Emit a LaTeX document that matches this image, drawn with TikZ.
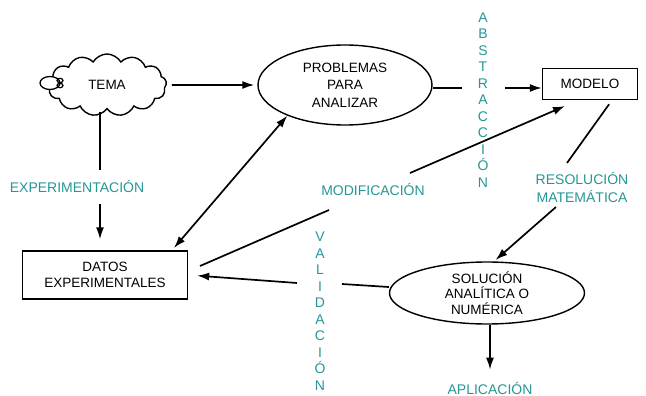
\documentclass[tikz,border=0pt]{standalone}
\usepackage{fontspec}
\setmainfont{Liberation Sans}
\usetikzlibrary{arrows.meta,shapes.geometric,shapes.symbols}
\definecolor{labelteal}{RGB}{38,150,150}

\tikzset{
  box/.style={draw, line width=1.4pt, align=center, inner sep=0pt},
  oval/.style={draw, ellipse, line width=1.4pt, align=center, inner sep=0pt},
  lbl/.style={text=labelteal, align=center, inner sep=0pt,
    font=\fontsize{14}{18}\selectfont},
  vlbl/.style={lbl, font=\fontsize{14}{16.5}\selectfont},
  conn/.style={line width=1.7pt},
  arr/.style={conn, -{Latex[length=12pt,width=8pt]}},
}

\begin{document}
\begin{tikzpicture}[x=1pt, y=-1pt, font=\fontsize{13.5}{16.5}\selectfont]
  \useasboundingbox (0,0) rectangle (646,396);

  % main nodes
  \node[cloud, draw, line width=1.4pt, cloud puffs=13, cloud puff arc=120,
    aspect=2, minimum width=119pt, minimum height=62pt, inner sep=0pt]
    (tema) at (107,85) {TEMA};
  \draw[line width=1.3pt, fill=white] (50,83) ellipse (10 and 6.5);
  \draw[line width=1.2pt] (60,80.5) ellipse (3 and 2.2);
  \draw[line width=1.2pt] (60,85.5) ellipse (3 and 2.2);
  \node[oval, minimum width=174pt, minimum height=80pt,
    font=\fontsize{13.5}{17.5}\selectfont] (prob) at (345,85)
    {PROBLEMAS\\PARA\\ANALIZAR};
  \node[box, minimum width=95pt, minimum height=31pt] (modelo) at (590,84) {MODELO};
  \node[box, minimum width=165pt, minimum height=48pt] (datos) at (105,275)
    {DATOS\\EXPERIMENTALES};
  \node[oval, minimum width=195pt, minimum height=62pt,
    font=\fontsize{13.5}{15.5}\selectfont] (sol) at (487,293)
    {SOLUCIÓN\\ANALÍTICA O\\NUMÉRICA};

  % labels
  \node[lbl] (exper) at (77,186) {EXPERIMENTACIÓN};
  \node[lbl] (modif) at (373,189) {MODIFICACIÓN};
  \node[lbl] (resol) at (582,187) {RESOLUCIÓN\\MATEMÁTICA};
  \node[lbl] (aplic) at (490,388) {APLICACIÓN};
  \node[vlbl] (abst) at (483,100) {A\\B\\S\\T\\R\\A\\C\\C\\I\\Ó\\N};
  \node[vlbl] (valid) at (320,311) {V\\A\\L\\I\\D\\A\\C\\I\\Ó\\N};

  % free ends of the broken connectors
  \coordinate (e1) at (100,170);
  \coordinate (e2) at (100,204);
  \coordinate (m1) at (200,266);
  \coordinate (m2) at (329,210);
  \coordinate (m3) at (410,173);
  \coordinate (m4) at (565,106);
  \coordinate (a1) at (462,88);
  \coordinate (a2) at (505,88);
  \coordinate (r1) at (567,163);
  \coordinate (r2) at (556,207);
  \coordinate (v1) at (342,284);
  \coordinate (v2) at (297,283);

  % connectors
  \draw[arr, shorten <=5pt, shorten >=3pt] (tema) -- (prob);
  \draw[conn, shorten <=2pt] (tema.south -| e1) -- (e1);
  \draw[arr, shorten >=11pt] (e2) -- (datos.north -| e2);
  \draw[conn, {Latex[length=12pt,width=8pt]}-{Latex[length=12pt,width=8pt]},
    shorten <=3pt] ([xshift=67pt]datos.north) -- (prob.208);
  \draw[conn] (m1) -- (m2);
  \draw[arr] (m3) -- (m4);
  \draw[conn] ([yshift=-3pt]prob.east) -- (a1);
  \draw[arr] (a2) -- (modelo.west |- a2);
  \draw[conn, shorten <=5pt] ([xshift=22pt]modelo.south) -- (r1);
  \draw[arr, shorten >=2pt] (r2) -- ([xshift=7pt]sol.north);
  \draw[arr, shorten >=12pt] (sol.south -| aplic.north) -- (aplic.north);
  \draw[conn] ([yshift=6pt]sol.west) -- (v1);
  \draw[arr, shorten >=9pt] (v2) -- (datos.east);
\end{tikzpicture}
\end{document}
